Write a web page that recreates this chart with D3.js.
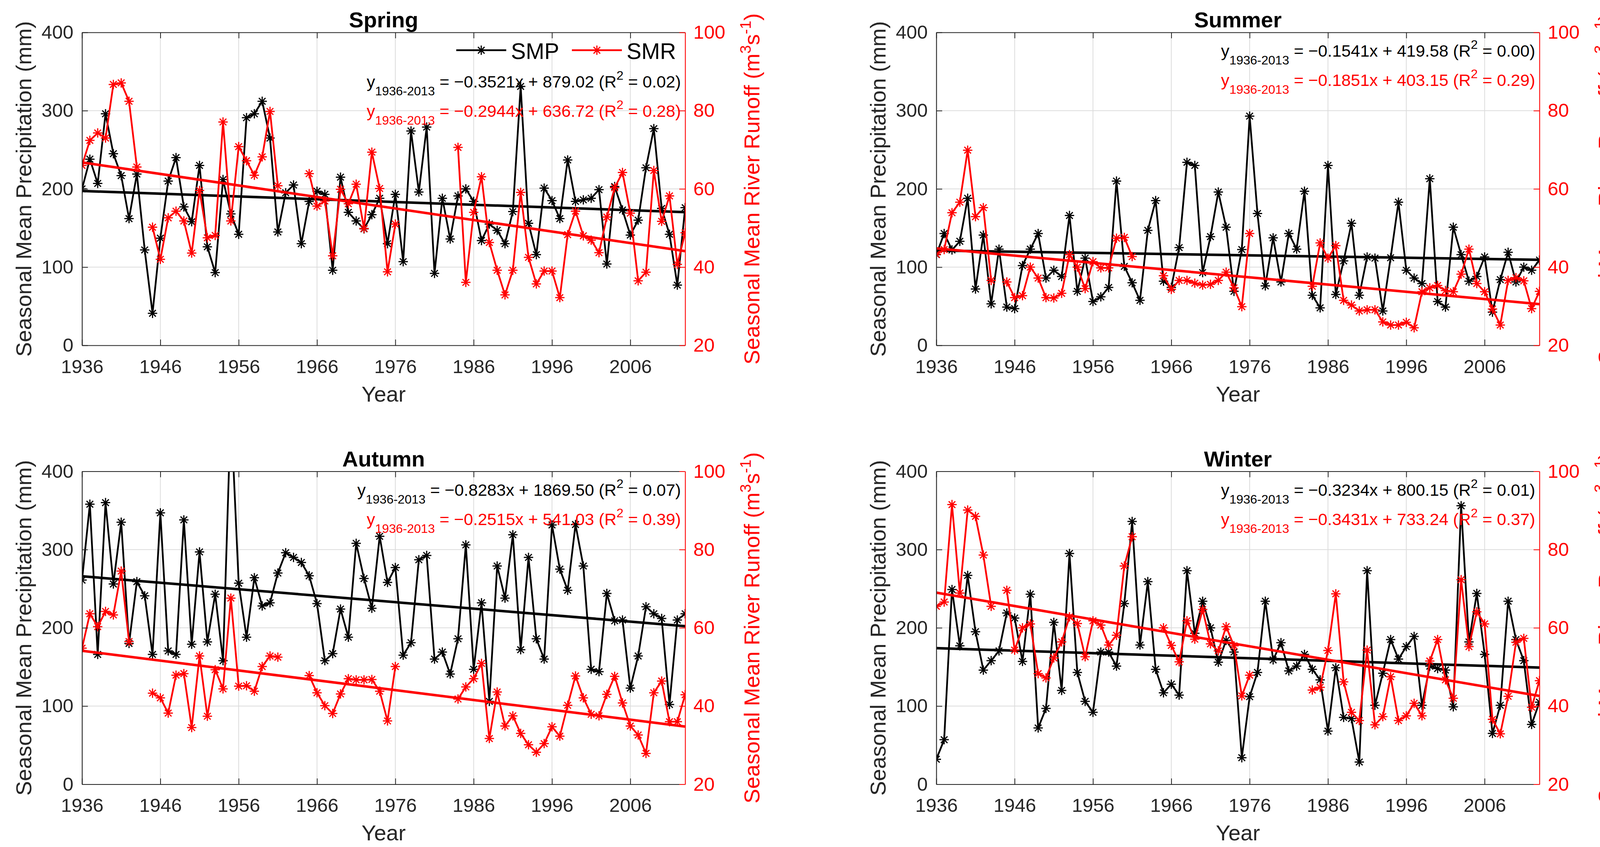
<!DOCTYPE html>
<html>
<head>
<meta charset="utf-8">
<script src="https://cdn.jsdelivr.net/npm/d3@7"></script>
<style>
  html, body { margin: 0; padding: 0; background: #fff; overflow: hidden; }
  svg { display: block; }
  text { font-family: "Liberation Sans", Arial, Helvetica, sans-serif; }
</style>
</head>
<body>
<script>
// years and ticks
const years = d3.range(1936, 2014);
const xTicks = [1936, 1946, 1956, 1966, 1976, 1986, 1996, 2006];
const yTicksP = [0, 100, 200, 300, 400];
const yTicksR = [20, 40, 60, 80, 100];
const seasons = ["Spring", "Summer", "Autumn", "Winter"];

// seasonal mean precipitation (mm), 1936-2013
const springSMP = [200,238,207,296,245,217,162,219,122,41, 137,210,240,177,158,230,126,93,212,168,
  142,291,296,312,265,145,195,205,130,184, 197,193,96,215,170,159,149,167,188,130,
  193,107,274,196,279,92,188,136,191,200, 184,134,155,147,130,171,331,156,116,201,
  185,162,237,184,186,188,199,104,203,173, 141,160,227,277,175,142,77,176];
const summerSMP = [116,143,122,133,188,72,141,53,123,49, 47,102,123,143,86,96,88,166,69,111.5,
  56,62,74,210,101,80,57.5,147,185,82, 74,125,234,230,93,139,196,151,69,122.5,
  293,168.5,76,137.5,81,143,123,197,64,48, 230,65,108,156,64,113,111.5,44,112,183,
  96,86,79,213,56,49,151,116,82,88, 113,42.5,84,119,81,100,96,109];
const autumnSMP = [261,358,166,360,256,335,180,259,241,166, 347,170.5,166,338,179,297,182,243,158,480,
  257,188,264,228,232,270,296,290,283.5,266.5, 231,158,167,224,188,308,263,225,317,258,
  277,165,181,287,292.5,160,169,141,186,306, 147,232,106,279,238,319,172,290,186,160,
  331.5,275,248,332,279,147,144,244,209,210, 123,164,227,218,212,102,210,218];
const winterSMP = [32,57,249,177,267,195,146,158,170.5,219, 212.5,157,243,72,97,207,120,295,143,106,
  92,169,169,151,231,336,178,259,147,117, 128,114,273,193,234,200,156,184,169,34,
  112,143,234,159,181,145,151,166,147,133.5, 68,149,85.5,84,28.5,273,101,142,185,160,
  176,189,101,151,148,146,99,356,182,244, 166,65,101,234,185,158,76.5,105];

// seasonal mean river runoff (m3 s-1), 1936-2013, null = no record
const springSMR = [66,72.4,74.3,73,86.7,87.1,82.4,65.6,null,50.2, 42,52.6,54.3,51.8,43.6,59.6,47.5,48.1,77.1,51.8,
  70.8,67.2,63.5,68.2,79.8,60.8,null,null,null,63.9, 55.6,56.9,42.9,59.9,56.2,61.2,49.9,69.4,60.1,38.8,
  51,null,null,null,null,null,null,null,70.6,36.1, 54,63.1,46.3,39.2,32.9,39.2,59.1,42.5,35.7,39,
  39,32.2,48.3,54.3,48,46.9,43.7,52.8,60.3,64.2, 53.8,36.5,38.7,64.7,51.7,58.2,40.7,48.8];
const summerSMR = [43.3,44.5,53.9,56.6,69.9,52.9,55.2,36.6,null,36.2, 32.2,32.7,40,37.2,32.2,32.1,33.3,43.2,40,34.5,
  41.4,39.8,39.8,47.4,47.6,42.7,null,null,null,37.8, 34.3,36.6,36.6,35.9,35.4,35.6,36.6,38.7,34.7,29.9,
  48.6,null,null,null,null,null,null,null,35.1,46.2, 42.3,45.5,31.5,30.3,28.8,29.1,29.1,26,25.2,25.2,
  25.9,24.5,33.7,34.7,35.3,34,33.7,38.2,44.6,35.8, 33.7,29.3,25.2,36.6,37.3,36.5,29.4,33.8];
const autumnSMR = [54.8,63.6,60.3,64.2,63.3,74.5,56.5,null,null,43.3, 42.1,38.2,47.9,48.3,34.5,52.8,37.4,49.3,44.4,67.6,
  45.1,45.2,43.8,50.1,52.8,52.5,null,null,null,47.8, 43.4,40.1,38.1,43.1,47,46.7,46.7,46.8,43.8,36.2,
  50.1,null,null,null,null,null,null,null,41.8,44.9, 47,50.9,31.7,43.6,34.9,37.5,33,30.1,28.2,30.4,
  34.7,32.3,40.2,47.7,42.1,37.9,37.5,43,47.6,40.8, 34.9,32.6,27.9,43.4,46.4,36,36,42.9];
const winterSMR = [65.5,66.6,91.5,68.9,90.1,88.5,78.6,65.5,null,69.6, 54.3,60,61,48.3,47.2,52.3,56.4,62.8,61.1,52.6,
  61.8,60.7,55.6,58.1,75.8,83.3,null,null,null,60, 55.5,51.3,61.8,57.1,64.7,55.9,54.1,60.3,55.4,42.6,
  47.9,null,null,null,null,null,null,null,44.1,44.8, 54.2,68.7,46.2,38.4,36.3,54.3,35.2,37.3,47.5,36.3,
  37.5,40.7,37.5,51.5,57,46.7,42,72.3,55.2,64.1, 61,36.6,32.9,42.5,56.3,57.3,39.7,46.5];

// linear trends as printed on the chart
const slopeP = [-0.3521, -0.1541, -0.8283, -0.3234];
const interceptP = [879.02, 419.58, 1869.50, 800.15];
const r2P = [0.02, 0.00, 0.07, 0.01];
const slopeR = [-0.2944, -0.1851, -0.2515, -0.3431];
const interceptR = [636.72, 403.15, 541.03, 733.24];
const r2R = [0.28, 0.29, 0.39, 0.37];

const smpSeries = [springSMP, summerSMP, autumnSMP, winterSMP];
const smrSeries = [springSMR, summerSMR, autumnSMR, winterSMR];

const W = 4164, H = 2168;
const w = 1544, h = 801;
const origins = [[210, 83], [2397, 83], [210, 1206.5], [2397, 1206.5]];
const RED = "#ff0000", INK = "#262626";

const svg = d3.select("body").append("svg")
  .attr("width", W).attr("height", H)
  .attr("viewBox", [0, 0, W, H]);
svg.append("rect").attr("width", W).attr("height", H).attr("fill", "#fff");
svg.append("defs").append("clipPath").attr("id", "plotclip")
  .append("rect").attr("width", w).attr("height", h);

const x = d3.scaleLinear().domain([1936, 2013]).range([0, w]);
const yL = d3.scaleLinear().domain([0, 400]).range([h, 0]);
const yR = d3.scaleLinear().domain([20, 100]).range([h, 0]);

// MATLAB style '*' marker
const s = 12, a = s * 0.7071;
const star = `M${-s},0H${s}M0,${-s}V${s}M${-a},${-a}L${a},${a}M${-a},${a}L${a},${-a}`;

const fSlope = d3.format(".4f"), fInt = d3.format(".2f");

function drawSeries(g, vals, y, color) {
  const pts = years.map((yr, i) => ({ yr, v: vals[i] }));
  g.append("path")
    .datum(pts)
    .attr("fill", "none").attr("stroke", color).attr("stroke-width", 4.5)
    .attr("stroke-linejoin", "round")
    .attr("d", d3.line().defined(d => d.v != null).x(d => x(d.yr)).y(d => y(d.v)));
  g.append("g").selectAll("path")
    .data(pts.filter(d => d.v != null))
    .join("path")
      .attr("transform", d => `translate(${x(d.yr)},${y(d.v)})`)
      .attr("d", star).attr("fill", "none")
      .attr("stroke", color).attr("stroke-width", 3);
}

function drawTrend(g, m, b, y, color) {
  const ends = [1936, 2013];
  g.append("path")
    .datum(ends)
    .attr("fill", "none").attr("stroke", color).attr("stroke-width", 6.5)
    .attr("d", d3.line().x(d => x(d)).y(d => y(m * d + b)));
}

function equation(g, yBase, m, b, r2, color) {
  const t = g.append("text")
    .attr("x", w - 11).attr("y", yBase)
    .attr("text-anchor", "end").attr("fill", color)
    .attr("font-size", 43);
  t.append("tspan").text("y");
  t.append("tspan").attr("font-size", 32).attr("dy", 20).text("1936-2013");
  t.append("tspan").attr("dy", -20).text(` = ${fSlope(m)}x + ${fInt(b)} (R`);
  t.append("tspan").attr("font-size", 32).attr("dy", -20).text("2");
  t.append("tspan").attr("dy", 20).text(` = ${fInt(r2)})`);
}

seasons.forEach((name, i) => {
  const [ox, oy] = origins[i];
  const g = svg.append("g").attr("transform", `translate(${ox},${oy})`);

  // grid
  const grid = g.append("g").attr("stroke", "#dcdcdc").attr("stroke-width", 2);
  grid.selectAll("line.gx").data(xTicks).join("line")
    .attr("x1", d => x(d)).attr("x2", d => x(d)).attr("y1", 0).attr("y2", h);
  grid.selectAll("line.gy").data(yTicksP).join("line")
    .attr("x1", 0).attr("x2", w).attr("y1", d => yL(d)).attr("y2", d => yL(d));

  // data
  const plot = g.append("g").attr("clip-path", "url(#plotclip)");
  drawSeries(plot, smpSeries[i], yL, "#000");
  drawTrend(plot, slopeP[i], interceptP[i], yL, "#000");
  drawSeries(plot, smrSeries[i], yR, RED);
  drawTrend(plot, slopeR[i], interceptR[i], yR, RED);

  // axes
  const styleAxis = (sel, color) => {
    sel.attr("font-size", 49).attr("font-family", "Liberation Sans, Arial, sans-serif");
    sel.select(".domain").attr("stroke", color).attr("stroke-width", 2.2);
    sel.selectAll(".tick line").attr("stroke", color).attr("stroke-width", 2);
    sel.selectAll(".tick text").attr("fill", color);
  };
  g.append("g").attr("transform", `translate(0,${h})`)
    .call(d3.axisBottom(x).tickValues(xTicks).tickFormat(d3.format("d"))
      .tickSizeInner(-15).tickSizeOuter(0).tickPadding(36))
    .call(sel => styleAxis(sel, INK));
  g.append("g")
    .call(d3.axisTop(x).tickValues(xTicks).tickFormat("")
      .tickSizeInner(-15).tickSizeOuter(0))
    .call(sel => styleAxis(sel, INK));
  g.append("g")
    .call(d3.axisLeft(yL).tickValues(yTicksP)
      .tickSizeInner(-15).tickSizeOuter(0).tickPadding(22))
    .call(sel => styleAxis(sel, INK));
  g.append("g").attr("transform", `translate(${w},0)`)
    .call(d3.axisRight(yR).tickValues(yTicksR)
      .tickSizeInner(-15).tickSizeOuter(0).tickPadding(21))
    .call(sel => styleAxis(sel, RED));

  // labels
  g.append("text").attr("x", w / 2).attr("y", -13)
    .attr("text-anchor", "middle").attr("font-size", 56).attr("font-weight", "bold")
    .attr("fill", "#000").text(name);
  g.append("text").attr("x", w / 2).attr("y", h + 143.5)
    .attr("text-anchor", "middle").attr("font-size", 56).attr("fill", INK).text("Year");
  g.append("text").attr("transform", `translate(-130,${h / 2}) rotate(-90)`)
    .attr("text-anchor", "middle").attr("font-size", 56).attr("fill", INK)
    .text("Seasonal Mean Precipitation (mm)");
  const rl = g.append("text").attr("transform", `translate(${w + 190},${h / 2}) rotate(-90)`)
    .attr("text-anchor", "middle").attr("font-size", 56).attr("fill", RED);
  rl.append("tspan").text("Seasonal Mean River Runoff (m");
  rl.append("tspan").attr("font-size", 39).attr("dy", -22).text("3");
  rl.append("tspan").attr("dy", 22).text("s");
  rl.append("tspan").attr("font-size", 39).attr("dy", -22).text("-1");
  rl.append("tspan").attr("dy", 22).text(")");

  // equations
  const eqTop = i === 0 ? 140.5 : 62;
  equation(g, eqTop, slopeP[i], interceptP[i], r2P[i], "#000");
  equation(g, eqTop + 75, slopeR[i], interceptR[i], r2R[i], RED);

  // legend (first panel only)
  if (i === 0) {
    const items = [{ label: "SMP", color: "#000", x0: 958 }, { label: "SMR", color: RED, x0: 1254 }];
    const lg = g.append("g");
    items.forEach(it => {
      lg.append("line").attr("x1", it.x0).attr("x2", it.x0 + 128)
        .attr("y1", 45.6).attr("y2", 45.6)
        .attr("stroke", it.color).attr("stroke-width", 4.5);
      lg.append("path").attr("transform", `translate(${it.x0 + 64},45.6)`)
        .attr("d", star).attr("fill", "none").attr("stroke", it.color).attr("stroke-width", 3);
      lg.append("text").attr("x", it.x0 + 140).attr("y", 67.5)
        .attr("font-size", 57).attr("fill", "#000").text(it.label);
    });
  }
});
</script>
</body>
</html>
